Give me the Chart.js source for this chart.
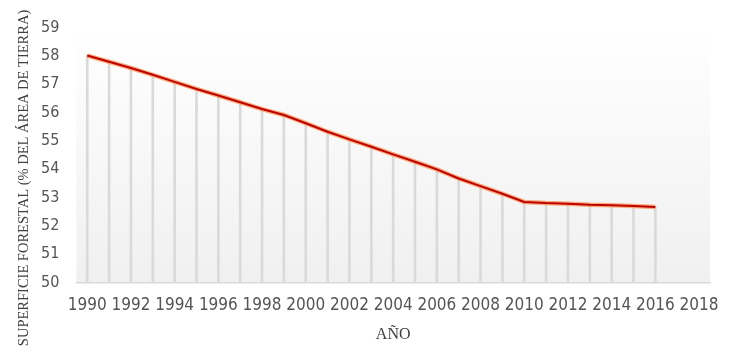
<!DOCTYPE html>
<html>
<head>
<meta charset="utf-8">
<script src="https://cdn.jsdelivr.net/npm/chart.js@4.4.0/dist/chart.umd.min.js"></script>
<style>
html,body{margin:0;padding:0;background:#ffffff;}
#wrap{width:740px;height:358px;position:relative;}
</style>
</head>
<body>
<div id="wrap"><canvas id="c" width="740" height="358"></canvas></div>
<script>
const years = ["1990","1991","1992","1993","1994","1995","1996","1997","1998","1999","2000","2001","2002","2003","2004","2005","2006","2007","2008","2009","2010","2011","2012","2013","2014","2015","2016","2017","2018"];
const forestPct = [58.01,57.79,57.57,57.33,57.08,56.83,56.60,56.36,56.12,55.91,55.62,55.32,55.05,54.79,54.52,54.26,53.99,53.67,53.40,53.13,52.84,52.80,52.78,52.74,52.72,52.70,52.66,null,null];
const yTicks = [50,51,52,53,54,55,56,57,58,59];
const xTitle = "AÑO";
const yTitle = "SUPERFICIE FORESTAL (% DEL ÁREA DE TIERRA)";

const bgPlugin = {
  id: 'bg',
  beforeDraw(chart) {
    const {ctx, chartArea: a} = chart;
    const g = ctx.createLinearGradient(0, a.top, 0, a.bottom);
    g.addColorStop(0, '#ffffff');
    g.addColorStop(1, '#f0f0f0');
    ctx.save();
    ctx.fillStyle = g;
    ctx.fillRect(a.left, a.top, a.right - a.left, a.bottom - a.top);
    ctx.restore();
  },
  afterDraw(chart) {
    const {ctx, chartArea: a} = chart;
    ctx.save();
    ctx.translate(a.left - 52, (a.top + a.bottom) / 2 + 23);
    ctx.rotate(-Math.PI / 2);
    ctx.font = '14.5px "Liberation Serif"';
    ctx.fillStyle = '#404040';
    ctx.textAlign = 'center';
    ctx.textBaseline = 'middle';
    ctx.fillText(yTitle, 0, 0);
    ctx.restore();
  }
};

new Chart(document.getElementById('c'), {
  data: {
    labels: years,
    datasets: [
      {type:'line', data: forestPct, borderColor:'#c00000', borderWidth:2, pointRadius:0, tension:0, order:1, spanGaps:false},
      {type:'line', data: forestPct, borderColor:'rgba(245,140,70,0.7)', borderWidth:4.5, pointRadius:0, tension:0, order:2},
      {type:'bar', data: forestPct, backgroundColor:'#dadada', barThickness:2, order:3}
    ]
  },
  options: {
    responsive:false,
    animation:false,
    plugins:{legend:{display:false}, tooltip:{enabled:false}},
    layout:{padding:{left:24, right:30, top:27.5, bottom:14}},
    scales:{
      x:{
        type:'category', offset:true,
        grid:{display:false, drawTicks:false},
        border:{display:true, color:'#d9d9d9', width:1.5},
        ticks:{autoSkip:false, maxRotation:0, padding:13, color:'#555555',
          font:{family:'"DejaVu Sans Condensed","DejaVu Sans"', size:17},
          callback:(v,i)=> i%2===0 ? years[i] : null},
        title:{display:true, text:xTitle, color:'#404040', padding:{top:-4,bottom:0},
          font:{family:'"Liberation Serif"', size:16}}
      },
      y:{
        min:50, max:59,
        afterBuildTicks:(s)=>{ s.ticks = yTicks.map(v=>({value:v})); },
        grid:{display:false, drawTicks:false},
        border:{display:false},
        ticks:{padding:17, color:'#555555',
          font:{family:'"DejaVu Sans Condensed","DejaVu Sans"', size:16}}
      }
    }
  },
  plugins:[bgPlugin]
});
</script>
</body>
</html>
